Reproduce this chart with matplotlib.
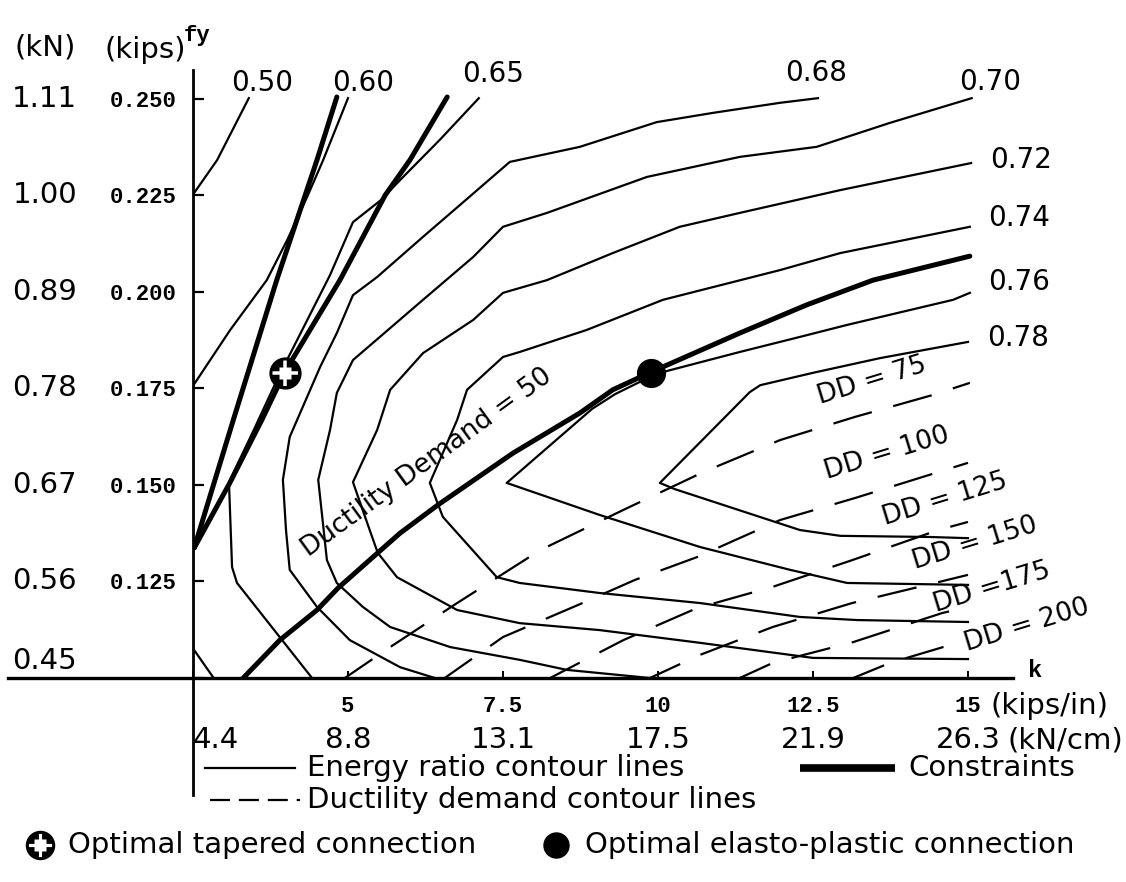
import matplotlib

matplotlib.use("Agg")
import matplotlib.pyplot as plt  # noqa: E402

# stiffness k (kips/in) and yield force fy (kips)

# energy ratio contour lines
er_050_k = [2.52, 2.89, 3.40]
er_050_fy = [0.2256, 0.2341, 0.2501]
er_060_k = [2.52, 3.10, 3.69, 4.02, 4.34, 4.60, 5.00]
er_060_fy = [0.1761, 0.1901, 0.2030, 0.2134, 0.2245, 0.2341, 0.2501]
er_corner_k = [2.52, 2.82]
er_corner_fy = [0.1072, 0.1003]
er_065_k = [4.42, 3.21, 3.13, 3.08, 3.48, 3.87, 4.18, 4.71, 5.08, 5.53, 5.84, 6.48, 7.11]
er_065_fy = [0.1000, 0.1246, 0.1287, 0.1507, 0.1642, 0.1777, 0.1875, 0.2043, 0.2180,
             0.2237, 0.2289, 0.2393, 0.2501]
er_068_k = [6.40, 5.84, 5.03, 4.50, 4.06, 4.00, 3.95, 4.06, 4.55, 4.82, 5.08, 5.47, 6.21,
            6.94, 7.61, 8.74, 9.98, 10.89, 11.97, 12.58]
er_068_fy = [0.1000, 0.1028, 0.1098, 0.1184, 0.1280, 0.1383, 0.1513, 0.1624, 0.1805, 0.1893,
             0.1991, 0.2038, 0.2142, 0.2243, 0.2336, 0.2375, 0.2439, 0.2463, 0.2489, 0.2501]
er_070_k = [9.87, 8.53, 7.77, 6.65, 5.68, 5.24, 4.82, 4.66, 4.52, 4.71, 4.82, 5.08, 6.21,
            7.02, 7.50, 8.21, 9.82, 11.32, 12.56, 13.74, 15.06]
er_070_fy = [0.1000, 0.1021, 0.1047, 0.1080, 0.1132, 0.1184, 0.1246, 0.1305, 0.1513, 0.1642,
             0.1738, 0.1823, 0.1979, 0.2090, 0.2168, 0.2204, 0.2297, 0.2349, 0.2375, 0.2437,
             0.2501]
er_072_k = [15.00, 12.50, 10.68, 9.06, 7.77, 6.76, 5.79, 5.48, 5.35, 5.08, 5.47, 5.68, 6.21,
            7.02, 7.50, 8.21, 9.27, 10.35, 11.32, 12.94, 15.05]
er_072_fy = [0.1049, 0.1052, 0.1091, 0.1124, 0.1142, 0.1176, 0.1261, 0.1324, 0.1383, 0.1507,
             0.1642, 0.1746, 0.1841, 0.1927, 0.1997, 0.2030, 0.2100, 0.2168, 0.2204, 0.2263,
             0.2333]
er_074_k = [15.00, 13.21, 12.29, 10.68, 9.06, 7.77, 7.40, 6.53, 6.32, 6.76, 6.92, 7.50, 7.77,
            8.85, 10.08, 10.89, 11.97, 12.94, 15.03]
er_074_fy = [0.1145, 0.1150, 0.1158, 0.1194, 0.1220, 0.1246, 0.1261, 0.1417, 0.1505, 0.1668,
             0.1746, 0.1831, 0.1844, 0.1901, 0.1979, 0.2012, 0.2056, 0.2100, 0.2168]
er_076_k = [15.00, 13.05, 12.13, 10.68, 9.06, 7.56, 8.94, 9.31, 9.84, 10.15, 11.32, 12.29,
            13.05, 14.76, 15.03]
er_076_fy = [0.1241, 0.1246, 0.1280, 0.1339, 0.1422, 0.1505, 0.1697, 0.1735, 0.1777, 0.1795,
             0.1844, 0.1883, 0.1914, 0.1979, 0.1997]
er_078_k = [15.00, 14.39, 12.94, 12.29, 10.27, 10.03, 11.48, 11.65, 12.50, 13.58, 15.00]
er_078_fy = [0.1362, 0.1365, 0.1368, 0.1383, 0.1489, 0.1505, 0.1740, 0.1758, 0.1790, 0.1828,
             0.1870]

# constraints (thick lines)
con_a_k = [2.52, 3.15, 3.85, 4.50, 4.82]
con_a_fy = [0.1337, 0.1668, 0.2030, 0.2341, 0.2504]
con_b_k = [2.52, 3.10, 3.61, 3.98, 4.87, 5.60, 6.00, 6.60]
con_b_fy = [0.1337, 0.1507, 0.1668, 0.1792, 0.2030, 0.2250, 0.2341, 0.2504]
dd050_k = [3.31, 3.90, 4.50, 4.84, 5.48, 5.84, 6.45, 7.66, 8.74, 9.27, 9.89, 11.32, 12.40,
           13.47, 15.03]
dd050_fy = [0.1000, 0.1098, 0.1176, 0.1233, 0.1324, 0.1375, 0.1448, 0.1582, 0.1686, 0.1746,
            0.1792, 0.1893, 0.1966, 0.2030, 0.2092]

# ductility demand contour lines (dashed)
dd075_k = [4.95, 5.68, 6.76, 8.10, 9.44, 10.73, 11.97, 13.18, 14.44, 15.03]
dd075_fy = [0.1000, 0.1080, 0.1194, 0.1331, 0.1435, 0.1533, 0.1616, 0.1676, 0.1733, 0.1764]
dd100_k = [6.56, 7.50, 8.71, 9.63, 10.63, 11.97, 13.18, 15.00]
dd100_fy = [0.1000, 0.1106, 0.1189, 0.1254, 0.1313, 0.1409, 0.1466, 0.1557]
dd125_k = [8.26, 9.44, 10.63, 11.85, 13.13, 14.52, 15.00]
dd125_fy = [0.1000, 0.1098, 0.1181, 0.1236, 0.1305, 0.1383, 0.1404]
dd150_k = [9.87, 10.68, 11.85, 13.13, 14.34, 15.00]
dd150_fy = [0.1000, 0.1060, 0.1132, 0.1194, 0.1241, 0.1267]
dd175_k = [11.32, 11.85, 13.15, 14.58, 15.00]
dd175_fy = [0.1000, 0.1039, 0.1093, 0.1168, 0.1184]
dd200_k = [13.15, 13.74, 14.87]
dd200_fy = [0.1000, 0.1039, 0.1093]

# optimal connections
opt_tapered_k, opt_tapered_fy = 3.98, 0.179
opt_plastic_k, opt_plastic_fy = 9.89, 0.179

# axis ticks
fy_ticks = [0.100, 0.125, 0.150, 0.175, 0.200, 0.225, 0.250]
fy_labels_kips = ["", "0.125", "0.150", "0.175", "0.200", "0.225", "0.250"]
fy_labels_kn = ["0.45", "0.56", "0.67", "0.78", "0.89", "1.00", "1.11"]
k_ticks = [2.5, 5, 7.5, 10, 12.5, 15]
k_labels_kips = ["", "5", "7.5", "10", "12.5", "15"]
k_labels_kn = ["4.4", "8.8", "13.1", "17.5", "21.9", "26.3"]

# contour labels: text, k, fy
er_labels = [
    ("0.50", 3.61, 0.2540), ("0.60", 5.24, 0.2540), ("0.65", 7.34, 0.2564),
    ("0.68", 12.55, 0.2566), ("0.70", 15.35, 0.2543), ("0.72", 15.85, 0.2341),
    ("0.74", 15.82, 0.2191), ("0.76", 15.82, 0.2025), ("0.78", 15.81, 0.1880),
]
dd_labels = [
    ("DD = 75", 13.45, 0.1769), ("DD = 100", 13.69, 0.1582), ("DD = 125", 14.63, 0.1463),
    ("DD = 150", 15.11, 0.1349), ("DD =175", 15.39, 0.1233), ("DD = 200", 15.95, 0.1137),
]

SANS = "DejaVu Sans"
MONO = "Liberation Mono"
THIN = 1.6
THICK = 3.6


def checkered(axis, x, y, size, transform):
    # ball-like symbol: black disc, white centre square and white cross, black ring
    axis.plot(x, y, "o", ms=size, mfc="black", mec="black", transform=transform,
              clip_on=False, zorder=6)
    axis.plot(x, y, "+", ms=size * 0.9, mec="white", mew=size * 0.12,
              transform=transform, clip_on=False, zorder=7)
    axis.plot(x, y, "s", ms=size * 0.42, mfc="white", mec="none", transform=transform,
              clip_on=False, zorder=8)
    axis.plot(x, y, "o", ms=size, mfc="none", mec="black", mew=2.2, transform=transform,
              clip_on=False, zorder=9)


fig = plt.figure(figsize=(11.26, 8.82), dpi=100)
ax = fig.add_axes([193 / 1126, 1 - 678 / 882, 820 / 1126, 608 / 882])
ax.set_xlim(2.5, 15.726)
ax.set_ylim(0.1, 0.25739)
for side in ax.spines.values():
    side.set_visible(False)

# axis lines, extended past the plotting area like in the drawing
ax.axvline(2.5, ymin=-0.192, ymax=1.0, color="black", lw=2.0, clip_on=False)
ax.axhline(0.1, xmin=-0.226, xmax=1.0, color="black", lw=2.4, clip_on=False)

energy = [
    (er_050_k, er_050_fy), (er_060_k, er_060_fy), (er_corner_k, er_corner_fy),
    (er_065_k, er_065_fy), (er_068_k, er_068_fy), (er_070_k, er_070_fy),
    (er_072_k, er_072_fy), (er_074_k, er_074_fy), (er_076_k, er_076_fy),
    (er_078_k, er_078_fy),
]
for xs, ys in energy:
    ax.plot(xs, ys, color="black", lw=THIN, solid_joinstyle="round")

for xs, ys in [(con_a_k, con_a_fy), (con_b_k, con_b_fy), (dd050_k, dd050_fy)]:
    ax.plot(xs, ys, color="black", lw=THICK, solid_capstyle="round",
            solid_joinstyle="round")

ductility = [
    (dd075_k, dd075_fy), (dd100_k, dd100_fy), (dd125_k, dd125_fy),
    (dd150_k, dd150_fy), (dd175_k, dd175_fy), (dd200_k, dd200_fy),
]
for xs, ys in ductility:
    ax.plot(xs, ys, color="black", lw=THIN, linestyle=(3, (18, 10)))

checkered(ax, opt_tapered_k, opt_tapered_fy, 21, ax.transData)
ax.plot(opt_plastic_k, opt_plastic_fy, "o", ms=20, color="black", zorder=6)

for text, x, y in er_labels:
    ax.text(x, y, text, fontsize=20, family=SANS, ha="center", va="center")
for text, x, y in dd_labels:
    ax.text(x, y, text, fontsize=19, family=SANS, ha="center", va="center",
            rotation=17, rotation_mode="anchor")
ax.text(6.27, 0.1559, "Ductility Demand = 50", fontsize=19, family=SANS,
        ha="center", va="center", rotation=36, rotation_mode="anchor")

# ticks: kips on the axis, kN beside it
ax.set_yticks(fy_ticks, labels=fy_labels_kips)
ax.set_xticks(k_ticks, labels=k_labels_kips)
ax.tick_params(axis="y", direction="in", length=8, width=1.6, pad=12)
ax.tick_params(axis="x", direction="in", length=5, width=1.4, pad=13)
for lab in ax.get_yticklabels() + ax.get_xticklabels():
    lab.set_fontfamily(MONO)
    lab.set_fontweight("bold")
    lab.set_fontsize(16)

for text, y in zip(fy_labels_kn, fy_ticks):
    va = "bottom" if y == 0.1 else "center"
    ax.text(0.11, y + (0.0008 if y == 0.1 else 0), text, fontsize=21, family=SANS,
            ha="center", va=va)

xt = ax.get_xaxis_transform()
for text, x in zip(k_labels_kn, k_ticks):
    ha = "left" if x == 2.5 else "center"
    ax.text(x, -0.102, text, transform=xt, fontsize=21, family=SANS, ha=ha, va="center")
ax.text(15.63, -0.102, "(kN/cm)", transform=xt, fontsize=21, family=SANS,
        ha="left", va="center")
ax.text(15.36, -0.046, "(kips/in)", transform=xt, fontsize=21, family=SANS,
        ha="left", va="center")
ax.text(16.08, 0.012, "k", transform=xt, fontsize=17, family=MONO, fontweight="bold",
        ha="center", va="center")

# unit headers above the y axis
ax.text(0.11, 0.2633, "(kN)", fontsize=21, family=SANS, ha="center", va="center")
ax.text(1.73, 0.2625, "(kips)", fontsize=21, family=SANS, ha="center", va="center")
ax.text(2.56, 0.2664, "fy", fontsize=16, family=MONO, fontweight="bold",
        ha="center", va="center")

# legend, laid out by hand below the chart
ft = fig.transFigure


def px(x, y):
    return x / 1126, 1 - y / 882


x0, y0 = px(205, 768)
x1, _ = px(295, 768)
ax.plot([x0, x1], [y0, y0], color="black", lw=THIN, transform=ft, clip_on=False)
fig.text(*px(307, 768), "Energy ratio contour lines", fontsize=21, family=SANS,
         va="center")
x0, y0 = px(800, 768)
x1, _ = px(895, 768)
ax.plot([x0, x1], [y0, y0], color="black", lw=5.5, transform=ft, clip_on=False,
        solid_capstyle="butt")
fig.text(*px(908, 768), "Constraints", fontsize=21, family=SANS, va="center")
x0, y0 = px(210, 800)
x1, _ = px(300, 800)
ax.plot([x0, x1], [y0, y0], color="black", lw=THIN, linestyle=(0, (9, 4)),
        transform=ft, clip_on=False)
fig.text(*px(307, 800), "Ductility demand contour lines", fontsize=21, family=SANS,
         va="center")
checkered(ax, *px(40, 845), 19, ft)
fig.text(*px(68, 845), "Optimal tapered connection", fontsize=21, family=SANS,
         va="center")
ax.plot(*px(556, 845), "o", ms=18, color="black", transform=ft, clip_on=False)
fig.text(*px(585, 845), "Optimal elasto-plastic connection", fontsize=21, family=SANS,
         va="center")

fig.savefig("out.png", dpi=100)
plt.close(fig)
